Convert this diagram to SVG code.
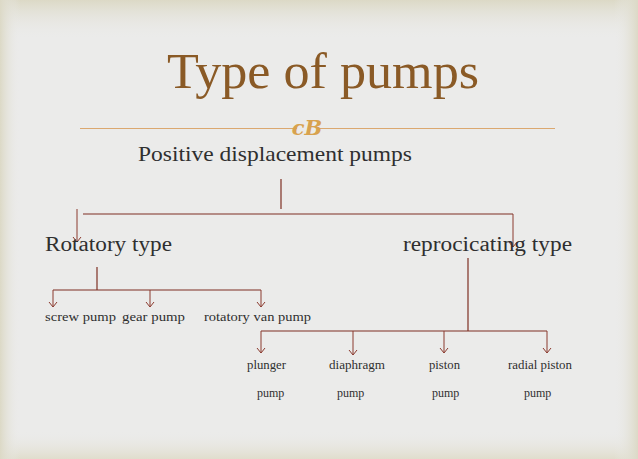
<svg xmlns="http://www.w3.org/2000/svg" width="638" height="459" viewBox="0 0 638 459">
<defs>
<linearGradient id="gTop" x1="0" y1="0" x2="0" y2="1"><stop offset="0" stop-color="#dcd9c6"/><stop offset="1" stop-color="#ebebea" stop-opacity="0"/></linearGradient>
<linearGradient id="gBot" x1="0" y1="1" x2="0" y2="0"><stop offset="0" stop-color="#e0ddcc"/><stop offset="1" stop-color="#ebebea" stop-opacity="0"/></linearGradient>
<linearGradient id="gLeft" x1="0" y1="0" x2="1" y2="0"><stop offset="0" stop-color="#dcd9c6"/><stop offset="1" stop-color="#ebebea" stop-opacity="0"/></linearGradient>
<linearGradient id="gRight" x1="1" y1="0" x2="0" y2="0"><stop offset="0" stop-color="#dcd9c6"/><stop offset="1" stop-color="#ebebea" stop-opacity="0"/></linearGradient>
<marker id="arr" markerWidth="10" markerHeight="10" refX="9" refY="5" orient="auto" markerUnits="userSpaceOnUse" viewBox="0 0 10 10">
<polyline points="4,1 9,5 4,9" fill="none" stroke="#8b3a2e" stroke-width="1"/>
</marker>
</defs>
<style>
.ln{stroke:#7e2f22;stroke-width:1.2;fill:none}
.ar{stroke:#8b3a2e;stroke-width:1;fill:none;marker-end:url(#arr)}
.t{font-family:"Liberation Serif","DejaVu Serif",serif;fill:#2f2f2f}
.big{font-size:20px}
.sm{font-size:12px}
</style>
<rect width="638" height="459" fill="#ebebea"/>
<rect width="638" height="40" fill="url(#gTop)"/>
<rect y="430" width="638" height="29" fill="url(#gBot)"/>
<rect width="20" height="459" fill="url(#gLeft)"/>
<rect x="614" width="24" height="459" fill="url(#gRight)"/>

<g id="title">
<text class="t" x="323" y="88" text-anchor="middle" font-size="50" style="fill:#8a5a26" textLength="312" lengthAdjust="spacingAndGlyphs">Type of pumps</text>
<line x1="80" y1="128.5" x2="297" y2="128.5" stroke="#dba870" stroke-width="1"/>
<line x1="318" y1="128.5" x2="555" y2="128.5" stroke="#dba870" stroke-width="1"/>
<text x="307" y="135" text-anchor="middle" font-family="'DejaVu Serif','Liberation Serif',serif" font-style="italic" font-weight="bold" font-size="21" fill="#d8a24e">cB</text>
</g>

<g id="connectors">
<line class="ln" x1="281" y1="179" x2="281" y2="209"/>
<line class="ln" x1="83" y1="214" x2="513" y2="214"/>
<line class="ar" x1="77" y1="209" x2="77" y2="242"/>
<line class="ar" x1="513" y1="214" x2="513" y2="247"/>
<line class="ln" x1="97" y1="267" x2="97" y2="290"/>
<line class="ln" x1="53" y1="290" x2="261" y2="290"/>
<line class="ar" x1="53" y1="290" x2="53" y2="307"/>
<line class="ar" x1="150" y1="290" x2="150" y2="307"/>
<line class="ar" x1="261" y1="290" x2="261" y2="307"/>
<line class="ln" x1="468" y1="258" x2="468" y2="331"/>
<line class="ln" x1="261" y1="331" x2="547" y2="331"/>
<line class="ar" x1="261" y1="331" x2="261" y2="353"/>
<line class="ar" x1="353" y1="331" x2="353" y2="355"/>
<line class="ar" x1="444" y1="331" x2="444" y2="353"/>
<line class="ar" x1="547" y1="331" x2="547" y2="353"/>
</g>

<g id="positive"><text class="t" x="138" y="161" font-size="21" textLength="274" lengthAdjust="spacingAndGlyphs">Positive displacement pumps</text></g>
<g id="rotatory"><text class="t big" x="45" y="251" textLength="127" lengthAdjust="spacingAndGlyphs">Rotatory type</text></g>
<g id="reciprocating"><text class="t big" x="403" y="251" textLength="169" lengthAdjust="spacingAndGlyphs">reprocicating type</text></g>
<g id="screw"><text class="t sm" x="45" y="321" textLength="71" lengthAdjust="spacingAndGlyphs">screw pump</text></g>
<g id="gear"><text class="t sm" x="122" y="321" textLength="63" lengthAdjust="spacingAndGlyphs">gear pump</text></g>
<g id="rotvan"><text class="t sm" x="204" y="321" textLength="107" lengthAdjust="spacingAndGlyphs">rotatory van pump</text></g>
<g id="plunger"><text class="t sm" x="247" y="369" textLength="39" lengthAdjust="spacingAndGlyphs">plunger</text><text class="t sm" x="257" y="397">pump</text></g>
<g id="diaphragm"><text class="t sm" x="329" y="369" textLength="56" lengthAdjust="spacingAndGlyphs">diaphragm</text><text class="t sm" x="337" y="397">pump</text></g>
<g id="piston"><text class="t sm" x="429" y="369" textLength="31" lengthAdjust="spacingAndGlyphs">piston</text><text class="t sm" x="432" y="397">pump</text></g>
<g id="radial"><text class="t sm" x="508" y="369" textLength="64" lengthAdjust="spacingAndGlyphs">radial piston</text><text class="t sm" x="524" y="397">pump</text></g>
</svg>
